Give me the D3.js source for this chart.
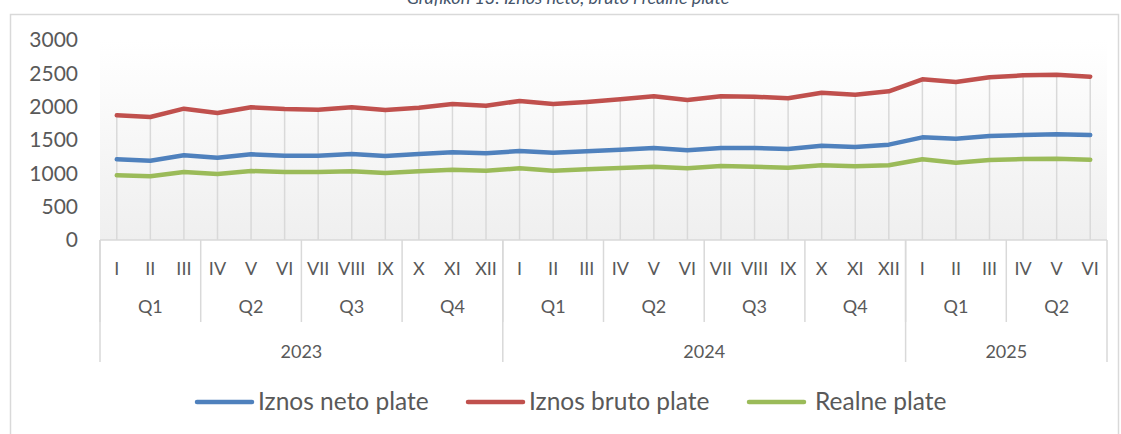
<!DOCTYPE html>
<html>
<head>
<meta charset="utf-8">
<script src="https://cdn.jsdelivr.net/npm/d3@7"></script>
<style>
  body { margin: 0; background: #fff; }
  text { font-family: Lato, "Open Sans", sans-serif; fill: #595959; }
</style>
</head>
<body>
<script>
'use strict';
// data
const months = ["I","II","III","IV","V","VI","VII","VIII","IX","X","XI","XII",
                "I","II","III","IV","V","VI","VII","VIII","IX","X","XI","XII",
                "I","II","III","IV","V","VI"];
const quarters = ["Q1","Q2","Q3","Q4","Q1","Q2","Q3","Q4","Q1","Q2"];
const years = ["2023","2024","2025"];
const yearSpans = [12, 12, 6];
const yTicks = [0, 500, 1000, 1500, 2000, 2500, 3000];

const neto = [1210,1190,1270,1235,1285,1265,1265,1290,1260,1290,1315,1300,
              1335,1310,1330,1355,1380,1345,1380,1380,1365,1415,1395,1430,
              1540,1520,1560,1575,1585,1575];
const bruto = [1870,1845,1970,1905,1990,1965,1955,1990,1950,1985,2040,2015,
               2085,2040,2070,2110,2155,2100,2155,2150,2125,2210,2180,2230,
               2410,2370,2440,2470,2480,2450];
const realne = [970,955,1020,990,1035,1020,1020,1030,1005,1030,1055,1040,
                1075,1040,1060,1080,1100,1075,1110,1100,1085,1120,1105,1120,
                1210,1160,1200,1215,1220,1205];

const seriesNames = ["Iznos neto plate", "Iznos bruto plate", "Realne plate"];
const seriesColors = ["#4f81bd", "#c0504d", "#9bbb59"];

window.onload = () => {
    const W = 1121, H = 434;
    const plot = { left: 100, right: 1107, top: 40, bottom: 240 };
    const gridColor = '#d9d9d9';

    const svg = d3.select('body').append('svg')
        .attr('width', W).attr('height', H);

    // title (cut off at the top in the original)
    svg.append('text')
        .attr('x', 568).attr('y', 4)
        .attr('text-anchor', 'middle')
        .style('font-size', '18px')
        .style('font-style', 'italic')
        .style('fill', '#44546a')
        .text('Grafikon 13: Iznos neto, bruto i realne plate');

    // chart frame
    svg.append('path')
        .attr('d', `M10.5,${H} V14.5 H1118.5 V${H}`)
        .attr('fill', 'none').attr('stroke', gridColor).attr('stroke-width', 1.5);

    // plot background gradient
    const grad = svg.append('defs').append('linearGradient')
        .attr('id', 'bg').attr('x1', 0).attr('y1', 0).attr('x2', 0).attr('y2', 1);
    grad.append('stop').attr('offset', '0%').attr('stop-color', '#ffffff');
    grad.append('stop').attr('offset', '100%').attr('stop-color', '#efefef');
    svg.append('rect')
        .attr('x', plot.left).attr('y', plot.top)
        .attr('width', plot.right - plot.left).attr('height', plot.bottom - plot.top)
        .attr('fill', 'url(#bg)');

    const idx = d3.range(months.length);
    const x = d3.scaleBand().domain(idx).range([plot.left, plot.right]).padding(0);
    const bw = x.bandwidth();
    const cx = (i) => x(i) + bw / 2;
    const y = d3.scaleLinear().domain([0, 3000]).range([plot.bottom, plot.top]);

    // drop lines from the highest series down to the axis
    svg.append('g').selectAll('line')
        .data(idx).enter().append('line')
        .attr('x1', cx).attr('x2', cx)
        .attr('y1', (i) => y(Math.max(neto[i], bruto[i], realne[i])))
        .attr('y2', y(0))
        .attr('stroke', gridColor).attr('stroke-width', 1.5);

    // y axis
    const yAxis = svg.append('g')
        .attr('transform', 'translate(78,0)')
        .call(d3.axisLeft(y).tickValues(yTicks).tickFormat(d3.format('d')).tickSize(0).tickPadding(0));
    yAxis.select('.domain').remove();
    yAxis.selectAll('text')
        .style('font-size', '21px')
        .style('font-family', 'Lato, sans-serif')
        .attr('fill', '#595959');

    // lines
    const line = d3.line().x((d, i) => cx(i)).y((d) => y(d));
    [neto, bruto, realne].forEach((s, k) => {
        svg.append('path')
            .datum(s)
            .attr('fill', 'none')
            .attr('stroke', seriesColors[k])
            .attr('stroke-width', 4.5)
            .attr('stroke-linejoin', 'round')
            .attr('stroke-linecap', 'round')
            .attr('d', line);
    });

    // multi-level category axis
    const rowBottom = { quarter: 322, year: 362 };
    const axisG = svg.append('g')
        .attr('stroke', gridColor).attr('stroke-width', 1.5);
    axisG.append('line')
        .attr('x1', plot.left).attr('x2', plot.right)
        .attr('y1', plot.bottom).attr('y2', plot.bottom);

    svg.append('g').selectAll('text')
        .data(months).enter().append('text')
        .attr('x', (d, i) => cx(i)).attr('y', 274.5)
        .attr('text-anchor', 'middle')
        .style('font-size', '18px')
        .text((d) => d);

    // quarter separators and labels
    quarters.forEach((q, k) => {
        const x0 = x(k * 3), x1 = (k * 3 + 3 < months.length) ? x(k * 3 + 3) : plot.right;
        axisG.append('line')
            .attr('x1', x0).attr('x2', x0)
            .attr('y1', plot.bottom).attr('y2', rowBottom.quarter);
        svg.append('text')
            .attr('x', (x0 + x1) / 2).attr('y', 312.5)
            .attr('text-anchor', 'middle')
            .style('font-size', '18px')
            .text(q);
    });

    // year separators and labels
    let start = 0;
    years.forEach((yr, k) => {
        const x0 = x(start);
        const end = start + yearSpans[k];
        const x1 = end < months.length ? x(end) : plot.right;
        axisG.append('line')
            .attr('x1', x0).attr('x2', x0)
            .attr('y1', plot.bottom).attr('y2', rowBottom.year);
        svg.append('text')
            .attr('x', (x0 + x1) / 2).attr('y', 357.5)
            .attr('text-anchor', 'middle')
            .style('font-size', '18px')
            .text(yr);
        start = end;
    });
    axisG.append('line')
        .attr('x1', plot.right).attr('x2', plot.right)
        .attr('y1', plot.bottom).attr('y2', rowBottom.year);

    // legend
    const legendX = [197, 468, 749];
    const legend = svg.append('g');
    seriesNames.forEach((name, k) => {
        legend.append('line')
            .attr('x1', legendX[k]).attr('x2', legendX[k] + 55)
            .attr('y1', 402).attr('y2', 402)
            .attr('stroke', seriesColors[k]).attr('stroke-width', 4.5)
            .attr('stroke-linecap', 'round');
        legend.append('text')
            .attr('x', legendX[k] + 61 + (k === 2 ? 5 : 0)).attr('y', 410)
            .style('font-size', '24.5px')
            .text(name);
    });
};
</script>
</body>
</html>
